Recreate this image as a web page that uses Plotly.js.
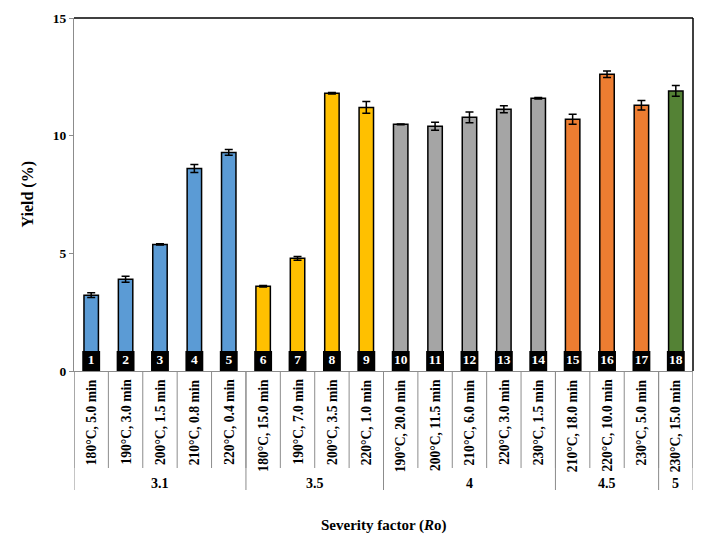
<!DOCTYPE html>
<html>
<head>
<meta charset="utf-8">
<script src="https://cdn.plot.ly/plotly-3.0.1.min.js"></script>
<style>html,body{margin:0;padding:0;background:#fff;}#chart{width:704px;height:544px;}</style>
</head>
<body>
<div id="chart"></div>
<script>
// ---- data ----
var conditions = ["180°C, 5.0 min","190°C, 3.0 min","200°C, 1.5 min","210°C, 0.8 min","220°C, 0.4 min",
  "180°C, 15.0 min","190°C, 7.0 min","200°C, 3.5 min","220°C, 1.0 min",
  "190°C, 20.0 min","200°C, 11.5 min","210°C, 6.0 min","220°C, 3.0 min","230°C, 1.5 min",
  "210°C, 18.0 min","220°C, 10.0 min","230°C, 5.0 min","230°C, 15.0 min"];
var sampleNumbers = ["1","2","3","4","5","6","7","8","9","10","11","12","13","14","15","16","17","18"];
var yieldValues = [3.22, 3.9, 5.38, 8.61, 9.29, 3.6, 4.79, 11.8, 11.2, 10.48, 10.4, 10.78, 11.12, 11.59, 10.7, 12.61, 11.29, 11.9];
var yieldErrors = [0.1, 0.13, 0.03, 0.17, 0.12, 0.03, 0.08, 0.03, 0.25, 0.02, 0.17, 0.23, 0.15, 0.03, 0.21, 0.14, 0.2, 0.23];
var severityGroups = ["3.1", "3.5", "4", "4.5", "5"];
var groupSizes = [5, 4, 5, 3, 1];
var groupColors = ["#5B9BD5", "#FFC000", "#A5A5A5", "#ED7D31", "#548235"];

// ---- derived ----
var xIdx = yieldValues.map(function(_, i){ return i; });
var barColors = [];
groupSizes.forEach(function(n, g){ for (var k = 0; k < n; k++) barColors.push(groupColors[g]); });

var FONT = "Liberation Serif, Times New Roman, serif";
var boxH = 0.85;
var H = 353; // plot height px
function py(px){ return -px / H; }

var traces = [
  {
    type: "bar", x: xIdx, y: yieldValues, width: 0.42,
    marker: {color: barColors, line: {color: "#000", width: 1.5}},
    error_y: {type: "data", array: yieldErrors, visible: true, color: "#000", thickness: 1.5, width: 4},
    hoverinfo: "skip"
  },
  {
    type: "bar", x: xIdx, y: xIdx.map(function(){ return boxH; }), width: 0.52,
    marker: {color: "#000", line: {width: 0}}, hoverinfo: "skip"
  },
  {
    type: "scatter", mode: "text", x: xIdx, y: xIdx.map(function(){ return boxH / 2; }),
    text: sampleNumbers, textposition: "middle center",
    textfont: {family: FONT, size: 13.5, color: "#fff", weight: "bold"}, hoverinfo: "skip"
  }
];

var shapes = [];
var annotations = [];
// category separators
for (var i = 0; i <= conditions.length; i++) {
  shapes.push({type: "line", xref: "x", yref: "paper", x0: i - 0.5, x1: i - 0.5, y0: 0, y1: py(97),
    line: {color: "#8c8c8c", width: 1}});
}
// group separators and group labels
var start = 0;
shapes.push({type: "line", xref: "x", yref: "paper", x0: -0.5, x1: -0.5, y0: 0, y1: py(119), line: {color: "#8c8c8c", width: 1}});
groupSizes.forEach(function(n, g){
  var end = start + n;
  shapes.push({type: "line", xref: "x", yref: "paper", x0: end - 0.5, x1: end - 0.5, y0: 0, y1: py(119),
    line: {color: "#8c8c8c", width: 1}});
  annotations.push({xref: "x", yref: "paper", x: (start + end - 1) / 2, y: 0, yanchor: "middle", xanchor: "center",
    yshift: -112, text: "<b>" + severityGroups[g] + "</b>", showarrow: false,
    font: {family: FONT, size: 14, color: "#000"}});
  start = end;
});
// condition labels
conditions.forEach(function(c, i){
  annotations.push({xref: "x", yref: "paper", x: i, y: 0, yanchor: "top", xanchor: "center", yshift: -6,
    textangle: -90, text: "<b>" + c + "</b>", showarrow: false,
    font: {family: FONT, size: 13.6, color: "#000"}});
});
// frame top/right
shapes.push({type: "line", xref: "paper", yref: "paper", x0: 0, x1: 1, y0: 1, y1: 1, line: {color: "#000", width: 1.5}});
shapes.push({type: "line", xref: "paper", yref: "paper", x0: 1, x1: 1, y0: 0, y1: 1, line: {color: "#000", width: 1.5}});

// titles
annotations.push({xref: "paper", yref: "paper", x: 0.5, y: 0, yanchor: "middle", xanchor: "center", yshift: -154,
  text: "<b>Severity factor (<i>R</i>o)</b>", showarrow: false, font: {family: FONT, size: 15, color: "#000"}});
annotations.push({xref: "paper", yref: "paper", x: 0, y: 0.5, xanchor: "center", yanchor: "middle", xshift: -47,
  textangle: -90, text: "<b>Yield (%)</b>", showarrow: false, font: {family: FONT, size: 16, color: "#000"}});

var layout = {
  width: 704, height: 544,
  margin: {l: 74, r: 11, t: 18, b: 173, pad: 0},
  paper_bgcolor: "#fff", plot_bgcolor: "#fff",
  showlegend: false, barmode: "overlay",
  xaxis: {range: [-0.5, 17.5], showticklabels: false, ticks: "", showgrid: false, zeroline: false,
    showline: true, linecolor: "#8c8c8c", linewidth: 1, fixedrange: true},
  yaxis: {range: [0, 15], dtick: 5, tick0: 0, showgrid: false, zeroline: false,
    showline: true, linecolor: "#8c8c8c", linewidth: 1, ticks: "outside", ticklen: 4, tickcolor: "#8c8c8c",
    tickfont: {family: FONT, size: 13.5, color: "#000", weight: "bold"}, fixedrange: true},
  shapes: shapes, annotations: annotations
};

Plotly.newPlot("chart", traces, layout, {displayModeBar: false, staticPlot: true});
</script>
</body>
</html>
